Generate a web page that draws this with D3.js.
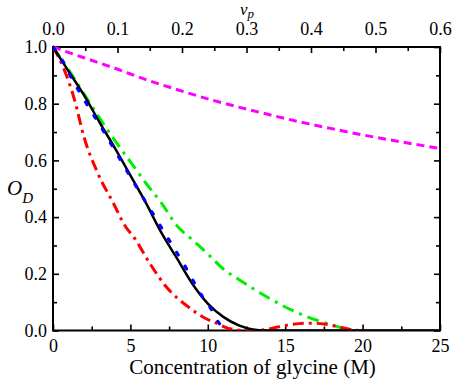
<!DOCTYPE html>
<html>
<head>
<meta charset="utf-8">
<script src="https://cdn.jsdelivr.net/npm/d3@7"></script>
<style>
  body { margin: 0; background: #fff; }
  svg text { font-family: "Liberation Serif", "Times New Roman", serif; fill: #000; }
</style>
</head>
<body>
<svg id="chart" width="454" height="381"></svg>
<script>
// curves: [concentration (M), O_D]
const solidBlack = [[0, 1.0], [1, 0.915], [2, 0.83], [3, 0.735], [4, 0.643], [5, 0.547], [6, 0.45],
  [7, 0.345], [8, 0.255], [9, 0.165], [10, 0.095], [11, 0.048], [12, 0.018], [13, 0.003], [14, 0], [25, 0]];
const dottedBlue = [[0, 1.0], [0.6, 0.953], [1.1, 0.9], [2.1, 0.806], [3.2, 0.709], [4.3, 0.607],
  [5.3, 0.515], [6.4, 0.417], [7.5, 0.319], [8.6, 0.22], [9.6, 0.124], [10.2, 0.077], [10.7, 0.028], [11.2, 0]];
const dashDotGreen = [[0, 1.0], [1, 0.92], [2, 0.835], [3, 0.75], [4, 0.67], [5, 0.595], [6, 0.52],
  [7, 0.45], [8, 0.37], [9, 0.32], [10, 0.27], [11, 0.217], [12, 0.18], [13, 0.145], [14, 0.113],
  [15, 0.083], [16, 0.058], [17, 0.037], [18, 0.02], [19, 0.004], [19.3, 0]];
const dashDotRed = [[0, 1.0], [0.65, 0.93], [1.4, 0.812], [2, 0.683], [2.9, 0.554], [3.9, 0.449],
  [4.7, 0.365], [5.2, 0.331], [6.25, 0.237], [7.3, 0.155], [8.7, 0.085], [9.8, 0.044], [10.55, 0.026],
  [11.5, 0.005], [12.5, 0], [13.5, 0.002], [14.5, 0.012], [15.5, 0.022], [16.5, 0.026], [17.5, 0.023],
  [18.5, 0.012], [19.2, 0.004], [19.8, 0]];
const dashedMagenta = [[0, 1.0], [2, 0.962], [4, 0.925], [6, 0.885], [8, 0.85], [10, 0.817], [12, 0.788],
  [14, 0.761], [16, 0.735], [18, 0.712], [20, 0.69], [22, 0.67], [25, 0.642]];

const xTicks = [0, 5, 10, 15, 20, 25];
const xMinor = [2.5, 7.5, 12.5, 17.5, 22.5];
const yTicks = [0, 0.2, 0.4, 0.6, 0.8, 1.0];
const yMinor = [0.1, 0.3, 0.5, 0.7, 0.9];
const vpTicks = [0, 0.1, 0.2, 0.3, 0.4, 0.5, 0.6];
const vpMinor = [0.05, 0.15, 0.25, 0.35, 0.45, 0.55];

// draw order: black sits under the blue dots
const series = [
  { data: dashedMagenta, color: "#ff00ff", dash: "8,5", width: 3 },
  { data: dashDotGreen, color: "#00ee00", dash: "12,6,3,6", width: 3 },
  { data: dashDotRed, color: "#ff0000", dash: "11,5,3,5", width: 3 },
  { data: solidBlack, color: "#000000", dash: null, width: 2.5 },
  { data: dottedBlue, color: "#0000ff", dash: "3,13", width: 3.2 },
];

const plot = { left: 53, right: 440, top: 47, bottom: 330.5 };
const svg = d3.select("#chart");

const x = d3.scaleLinear().domain([0, 25]).range([plot.left, plot.right]);
const xTop = d3.scaleLinear().domain([0, 0.6]).range([plot.left, plot.right]);
const y = d3.scaleLinear().domain([0, 1]).range([plot.bottom, plot.top]);

const fmt1 = d3.format(".1f");

function styleAxis(g) {
  g.select(".domain").remove();
  g.selectAll(".tick line").attr("stroke", "#000").attr("stroke-width", 1.6);
  g.selectAll("text").attr("font-size", 18).attr("font-family", "Liberation Serif");
}
function minorAxis(g) {
  g.select(".domain").remove();
  g.selectAll(".tick text").remove();
  g.selectAll(".tick line").attr("stroke", "#000").attr("stroke-width", 1.6);
}

// bottom
svg.append("g").attr("transform", `translate(0,${plot.bottom})`)
  .call(d3.axisBottom(x).tickValues(xTicks).tickSize(-6).tickPadding(9).tickFormat(d3.format("d")))
  .call(styleAxis);
svg.append("g").attr("transform", `translate(0,${plot.bottom})`)
  .call(d3.axisBottom(x).tickValues(xMinor).tickSize(-4))
  .call(minorAxis);

// top
svg.append("g").attr("transform", `translate(0,${plot.top})`)
  .call(d3.axisTop(xTop).tickValues(vpTicks).tickSize(-6).tickPadding(12).tickFormat(fmt1))
  .call(styleAxis);
svg.append("g").attr("transform", `translate(0,${plot.top})`)
  .call(d3.axisTop(xTop).tickValues(vpMinor).tickSize(-4))
  .call(minorAxis);

// left
svg.append("g").attr("transform", `translate(${plot.left},0)`)
  .call(d3.axisLeft(y).tickValues(yTicks).tickSize(-6).tickPadding(6).tickFormat(fmt1))
  .call(styleAxis);
svg.append("g").attr("transform", `translate(${plot.left},0)`)
  .call(d3.axisLeft(y).tickValues(yMinor).tickSize(-4))
  .call(minorAxis);

// right
svg.append("g").attr("transform", `translate(${plot.right},0)`)
  .call(d3.axisRight(y).tickValues(yTicks).tickSize(-6))
  .call(minorAxis);
svg.append("g").attr("transform", `translate(${plot.right},0)`)
  .call(d3.axisRight(y).tickValues(yMinor).tickSize(-4))
  .call(minorAxis);

// frame
svg.append("rect")
  .attr("x", plot.left).attr("y", plot.top)
  .attr("width", plot.right - plot.left).attr("height", plot.bottom - plot.top)
  .attr("fill", "none").attr("stroke", "#000").attr("stroke-width", 2);

// curves
svg.append("clipPath").attr("id", "plot-clip")
  .append("rect").attr("x", plot.left).attr("y", plot.top - 2)
  .attr("width", plot.right - plot.left).attr("height", plot.bottom - plot.top + 2);

const line = d3.line()
  .x(d => x(d[0]))
  .y(d => y(d[1]))
  .curve(d3.curveMonotoneX);

svg.append("g").attr("clip-path", "url(#plot-clip)")
  .selectAll("path")
  .data(series)
  .join("path")
  .attr("d", d => line(d.data))
  .attr("fill", "none")
  .attr("stroke", d => d.color)
  .attr("stroke-width", d => d.width)
  .attr("stroke-dasharray", d => d.dash)
  .attr("stroke-linecap", d => d.dash === "3,13" ? "round" : "butt");

// axis titles
svg.append("text")
  .attr("x", (plot.left + plot.right) / 2 + 6).attr("y", 374)
  .attr("text-anchor", "middle").attr("font-size", 21)
  .text("Concentration of glycine (M)");

const od = svg.append("text").attr("x", 7).attr("y", 195)
  .attr("font-size", 21).attr("font-style", "italic");
od.append("tspan").text("O");
od.append("tspan").attr("dy", 8).attr("font-size", 15).text("D");

const vp = svg.append("text").attr("x", 240).attr("y", 15)
  .attr("font-size", 17).attr("font-style", "italic");
vp.append("tspan").text("v");
vp.append("tspan").attr("dy", 3).attr("font-size", 13).text("p");
</script>
</body>
</html>
